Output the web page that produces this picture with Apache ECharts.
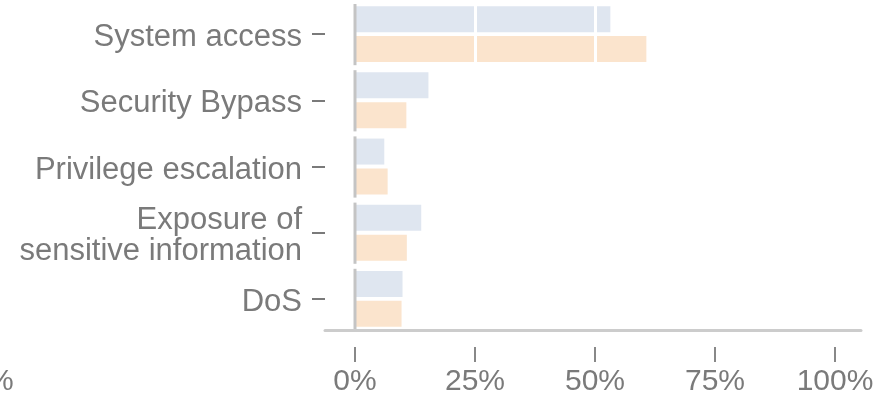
<!DOCTYPE html>
<html>
<head>
<meta charset="utf-8">
<style>html,body{margin:0;padding:0;background:#fff;}#c{width:882px;height:404px;}</style>
<script src="https://cdn.jsdelivr.net/npm/echarts@6/dist/echarts.min.js"></script>
</head>
<body>
<div id="c"></div>
<script>
const categories = ['System access', 'Security Bypass', 'Privilege escalation', 'Exposure of\nsensitive information', 'DoS'];
const seriesA = [53.2, 15.3, 6.1, 13.8, 9.9];
const seriesB = [60.7, 10.7, 6.8, 10.8, 9.7];
const xTicks = [0, 25, 50, 75, 100];

const chart = echarts.init(document.getElementById('c'), null, {renderer: 'canvas'});
const gray = '#7a7a7a';
const font = 'Liberation Sans, Arial, sans-serif';

chart.setOption({
  animation: false,
  backgroundColor: '#fff',
  graphic: [{
    type: 'text', x: -13, y: 367,
    style: {text: '%', fontSize: 30, fontFamily: font, fill: gray}
  }],
  grid: [
    {left: 325, right: 21, top: 1, bottom: 72},
    {left: 355, width: 480, top: 1, bottom: 72}
  ],
  xAxis: [
    {
      gridIndex: 0, type: 'value', min: -6.25, max: 105.42, offset: -2, z: 5,
      axisLine: {show: true, onZero: false, lineStyle: {color: '#cccccc', width: 3}},
      axisTick: {show: false}, axisLabel: {show: false}, splitLine: {show: false}
    },
    {
      gridIndex: 1, type: 'value', min: xTicks[0], max: xTicks[xTicks.length - 1], interval: 25,
      offset: 15, z: 3,
      axisLine: {show: false},
      axisTick: {show: true, length: 15, lineStyle: {color: '#888', width: 2}},
      axisLabel: {formatter: '{value}%', fontSize: 30, fontFamily: font, color: gray, margin: 20},
      splitLine: {show: true, showMinLine: false, lineStyle: {color: '#ffffff', width: 3}}
    }
  ],
  yAxis: [
    {
      gridIndex: 0, type: 'category', data: categories, inverse: true,
      axisLine: {show: false, onZero: false},
      axisTick: {show: true, alignWithLabel: true, length: 13, lineStyle: {color: gray, width: 2}},
      axisLabel: {
        margin: 23, align: 'right',
        formatter: v => v.split('\n').map(s => '{a|' + s + '}').join('\n'),
        rich: {a: {fontSize: 31, fontFamily: font, color: gray, lineHeight: 31, padding: [7, 0, 0, 0]}}
      }
    },
    {
      gridIndex: 1, type: 'category', data: categories, inverse: true, show: false
    }
  ],
  series: [
    {
      type: 'bar', xAxisIndex: 1, yAxisIndex: 1, data: seriesA,
      barWidth: 26, barGap: '15%', itemStyle: {color: '#dfe6f0'}
    },
    {
      type: 'bar', xAxisIndex: 1, yAxisIndex: 1, data: seriesB,
      barWidth: 26, barGap: '15%', itemStyle: {color: '#fbe4cd'}
    },
    {
      type: 'custom', xAxisIndex: 1, yAxisIndex: 1, z: 4, silent: true,
      data: categories.map((c, i) => [0, i]),
      renderItem: function (params, api) {
        const p = api.coord([0, api.value(1)]);
        const band = api.size([0, 1])[1];
        return {
          type: 'line',
          shape: {x1: p[0], y1: p[1] - band / 2 + 3, x2: p[0], y2: p[1] + band / 2 - 2},
          style: {stroke: '#c4c4c4', lineWidth: 3}
        };
      }
    }
  ]
});
</script>
</body>
</html>
